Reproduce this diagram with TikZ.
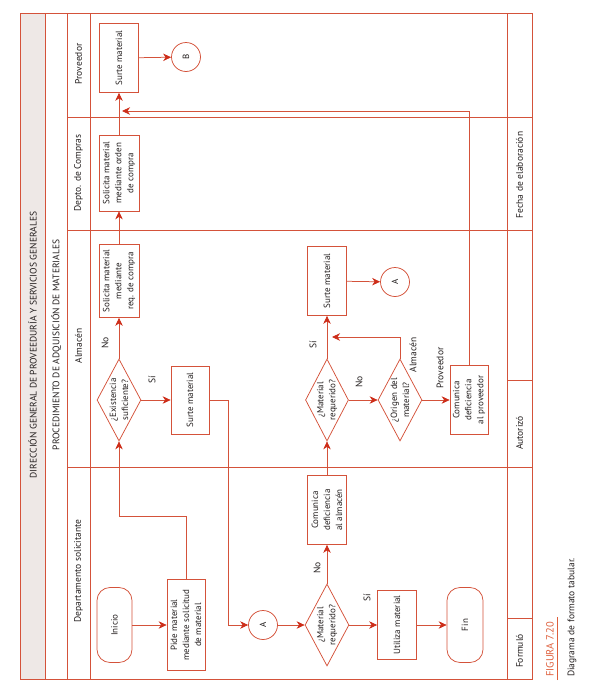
\documentclass[tikz,border=0pt]{standalone}
\usepackage{fontspec}
\setmainfont{PT Sans}
\usetikzlibrary{shapes.geometric,arrows.meta}
\definecolor{ln}{RGB}{212,82,58}
\definecolor{tipc}{RGB}{205,45,25}
\definecolor{txt}{RGB}{35,30,30}
\definecolor{capc}{RGB}{222,95,60}
\definecolor{paper}{RGB}{238,232,230}
\begin{document}
\begin{tikzpicture}[x=1pt,y=-1pt,
  font=\fontsize{9.5}{12.2}\selectfont, text=txt,
  frame/.style={draw=ln,line width=0.75pt},
  box/.style={draw=ln,line width=0.75pt,rotate=90,align=center,inner sep=1pt,fill=white,font=\fontsize{9}{12}\selectfont},
  proc/.style={box,rectangle},
  dec/.style={box,diamond,aspect=1.9,inner sep=0pt},
  term/.style={box,rectangle,rounded corners=13pt},
  conn/.style={box,circle,minimum size=29pt,inner sep=0pt},
  arr/.style={draw=ln,line width=0.75pt,-{Stealth[length=8pt,width=7.5pt,inset=2.5pt,color=tipc]}},
  lbl/.style={rotate=90,inner sep=0pt},
  hdr/.style={rotate=90,inner sep=0pt}]
\useasboundingbox (0,0) rectangle (598,699);
% frame
\fill[paper] (20,13) rectangle (45,679);
\draw[frame] (20,13) rectangle (532,679);
\draw[frame] (45,13) -- (45,679);
\draw[frame] (67,13) -- (67,679);
\draw[frame] (90,13) -- (90,679);
\draw[frame] (507,13) -- (507,679);
\draw[frame] (67,117) -- (532,117);
\draw[frame] (67,230) -- (532,230);
\draw[frame] (67,467) -- (532,467);
\draw[frame] (507,380) -- (532,380);
\draw[frame] (507,618) -- (532,618);
% titles
\node[hdr] (t1) at (32.5,345) {DIRECCIÓN GENERAL DE PROVEEDURÍA Y SERVICIOS GENERALES};
\node[hdr] (t2) at (56,345) {PROCEDIMIENTO DE ADQUISICIÓN DE MATERIALES};
\node[hdr] (h1) at (78.5,64) {Proveedor};
\node[hdr] (h2) at (78.5,173) {Depto. de Compras};
\node[hdr] (h3) at (78.5,346) {Almacén};
\node[hdr] (h4) at (78.5,571) {Departamento solicitante};
\node[hdr] (f1) at (519.5,175) {Fecha de elaboración};
\node[hdr] (f2) at (519.5,433) {Autorizó};
\node[hdr] (f3) at (519.5,651) {Formuló};
% nodes
\node[proc,minimum width=69pt,minimum height=39pt] (surteP) at (119,58) {Surte material};
\node[conn] (B) at (186,57) {B};
\node[proc,minimum width=76pt,minimum height=40pt] (ordenC) at (119,173) {Solicita material\\mediante orden\\de compra};
\node[proc,minimum width=73pt,minimum height=40pt] (reqA) at (119,281) {Solicita material\\mediante\\req. de compra};
\node[dec,minimum width=82pt,minimum height=44pt] (exist) at (119,400) {¿Existencia\\suficiente?};
\node[proc,minimum width=68pt,minimum height=38pt] (surteA1) at (190,400) {Surte material};
\node[conn] (A1) at (263,625) {A};
\node[term,minimum width=75pt,minimum height=35pt] (inicio) at (114.5,625) {Inicio};
\node[proc,minimum width=91pt,minimum height=38pt] (pide) at (186,625) {Pide material\\mediante solicitud\\de material};
\node[dec,minimum width=82pt,minimum height=44pt] (matreq1) at (327,625) {¿Material\\requerido?};
\node[proc,minimum width=69pt,minimum height=39pt] (comAlm) at (327,510) {Comunica\\deficiencia\\al almacén};
\node[proc,minimum width=69pt,minimum height=39pt] (utiliza) at (397,625) {Utiliza material};
\node[term,minimum width=75pt,minimum height=36pt] (fin) at (465,625) {Fin};
\node[dec,minimum width=82pt,minimum height=43pt] (matreq2) at (327,400) {¿Material\\requerido?};
\node[dec,minimum width=82pt,minimum height=44pt] (origen) at (400,400) {¿Origen del\\material?};
\node[proc,minimum width=69pt,minimum height=39pt] (surteA2) at (327,281) {Surte material};
\node[conn] (A2) at (395,282) {A};
\node[proc,minimum width=69pt,minimum height=38pt] (comProv) at (469,400) {Comunica\\deficiencia\\al proveedor};
\coordinate (j1) at (332,337);
\coordinate (j2) at (122,111);
% connectors
\draw[arr] (inicio) -- (pide);
\draw[arr] (pide.east) -- ++(0,-63) -| (exist.west);
\draw[arr] (exist) -- (reqA);
\draw[arr] (exist) -- (surteA1);
\draw[arr] (surteA1.south) -- ++(19,0) |- (A1);
\draw[arr] (A1) -- (matreq1);
\draw[arr] (matreq1) -- (comAlm);
\draw[arr] (matreq1) -- (utiliza);
\draw[arr] (utiliza) -- (fin);
\draw[arr] (comAlm) -- (matreq2);
\draw[arr] (matreq2) -- (origen);
\draw[arr] (matreq2) -- (surteA2);
\draw[arr] (origen.east) |- (j1);
\draw[arr] (origen) -- (comProv);
\draw[arr] (comProv.east) |- (j2);
\draw[arr] (reqA) -- (ordenC);
\draw[arr] (ordenC) -- (surteP);
\draw[arr] (surteP) -- (B);
\draw[arr] (surteA2) -- (A2);
% labels
\node[lbl] (l1) at (105,343) {No};
\node[lbl] (l2) at (152,380) {Sí};
\node[lbl] (l3) at (317,568) {No};
\node[lbl] (l4) at (367,598) {Sí};
\node[lbl] (l5) at (359,382) {No};
\node[lbl] (l6) at (313,345) {Sí};
\node[lbl] (l7) at (413,355) {Almacén};
\node[lbl] (l8) at (440,368) {Proveedor};
% caption
\node[lbl,anchor=west,text=capc,font=\fontsize{10.5}{12}\selectfont] (cap1) at (550,677) {FIGURA 7.20};
\draw[draw=capc,line width=0.75pt] (557.5,680) -- (557.5,617);
\node[lbl,anchor=west] (cap2) at (572,677) {Diagrama de formato tabular.};
\end{tikzpicture}
\end{document}
